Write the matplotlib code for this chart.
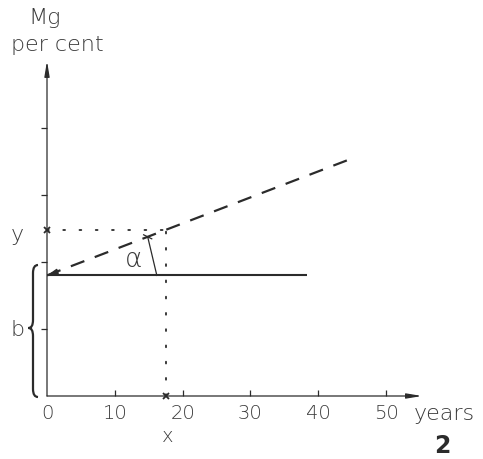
import matplotlib
matplotlib.use("Agg")
import matplotlib.pyplot as plt
from matplotlib.path import Path
from matplotlib.patches import PathPatch

# ---- data ----
x_ticks = [0, 10, 20, 30, 40, 50]
x_tick_labels = ["0", "10", "20", "30", "40", "50"]
y_ticks = [1, 2, 3, 4]
b_value = 1.8            # intercept b
slope = 0.0388           # tan(alpha), per year
x_value = 17.5           # years (x)
solid_end = 38.3         # end of solid horizontal line (years)
dashed_end = 44.3        # end of dashed line (years)
alpha_x = 14.85          # where the alpha marker meets the dashed line
xmax, ymax = 55.3, 5.0

y_value = b_value + slope * x_value

INK = "#2b2b2b"
TXT = "#3a3a3a"
FONT = "DejaVu Sans"

W, H = 483, 459
fig = plt.figure(figsize=(W / 100, H / 100), dpi=100)
x0_px, y0_px = 47, 396
sx, sy = 6.78, 67.0
ax = fig.add_axes([x0_px / W, (H - y0_px) / H, xmax * sx / W, ymax * sy / H])
ax.set_xlim(0, xmax)
ax.set_ylim(0, ymax)
for s in ["top", "right", "bottom", "left"]:
    ax.spines[s].set_visible(False)

# axes lines with arrows
ax.annotate("", xy=(xmax, 0), xytext=(0, 0),
            arrowprops=dict(arrowstyle="-|>,head_length=0.9,head_width=0.15",
                            color=INK, lw=0.9, shrinkA=0, shrinkB=0),
            annotation_clip=False)
ax.annotate("", xy=(0, ymax), xytext=(0, 0),
            arrowprops=dict(arrowstyle="-|>,head_length=0.9,head_width=0.15",
                            color=INK, lw=0.9, shrinkA=0, shrinkB=0),
            annotation_clip=False)

# ticks
ax.set_xticks(x_ticks[1:])
ax.set_xticklabels([])
ax.tick_params(axis="x", direction="in", length=4, width=0.9, color=INK)
ax.set_yticks(y_ticks)
ax.set_yticklabels([])
ax.tick_params(axis="y", direction="out", length=4, width=0.9, color=INK)

for xv, lab in zip(x_ticks, x_tick_labels):
    ax.text(xv, -0.26, lab, ha="center", va="center", fontsize=14,
            color=TXT, family=FONT, fontweight="light")
ax.text(58.6, -0.27, "years", ha="center", va="center", fontsize=16,
        color=TXT, family=FONT, fontweight="light", clip_on=False)
ax.text(x_value + 0.3, -0.6, "x", ha="center", va="center", fontsize=14,
        color=TXT, family=FONT, fontweight="light")
ax.text(58.3, -0.74, "2", ha="center", va="center", fontsize=17,
        color=INK, family=FONT, fontweight="bold")

# y-axis label
ax.text(-0.4, 5.64, "Mg", ha="center", va="center", fontsize=16,
        color=TXT, family=FONT, fontweight="light")
ax.text(1.5, 5.24, "per cent", ha="center", va="center", fontsize=16,
        color=TXT, family=FONT, fontweight="light")

# solid horizontal line
ax.plot([0, solid_end], [b_value, b_value], color=INK, lw=1.5,
        solid_capstyle="butt")

# dashed line with arrow at the start
xs = [0, dashed_end]
ys = [b_value + slope * v for v in xs]
ax.plot(xs, ys, color=INK, lw=1.6, dashes=(6.5, 5))
ax.annotate("", xy=(0, b_value), xytext=(1.4, b_value + slope * 1.4),
            arrowprops=dict(arrowstyle="-|>,head_length=0.6,head_width=0.15",
                            color=INK, lw=1.0, shrinkA=0, shrinkB=0))

# dotted guide lines
ax.plot([0, x_value], [y_value, y_value], color=INK, lw=1.3,
        dashes=(1, 8), dash_capstyle="round")
ax.plot([x_value, x_value], [0, y_value], color=INK, lw=1.3,
        dashes=(1, 8), dash_capstyle="round")
ax.plot([0, x_value], [y_value, 0], linestyle="none", marker="x",
        markersize=5, mew=1.3, color=INK, clip_on=False)

# alpha marker
ay = b_value + slope * alpha_x
ax.plot([16.2, alpha_x], [b_value, ay], color=INK, lw=0.9)
ax.plot([alpha_x - 0.6, alpha_x + 0.6], [ay + 0.03, ay - 0.03], color=INK, lw=0.9)
ax.text(12.8, 2.03, "α", ha="center", va="center", fontsize=19,
        color=TXT, family=FONT, fontweight="light")

# labels y and b
ax.text(-4.3, y_value - 0.08, "y", ha="center", va="center", fontsize=16,
        color=TXT, family=FONT, fontweight="light", clip_on=False)
ax.text(-4.3, 0.98, "b", ha="center", va="center", fontsize=16,
        color=TXT, family=FONT, fontweight="light", clip_on=False)

# curly brace for b (pixels converted to data units)
def px(xp):
    return (xp - x0_px) / sx

def py(yp):
    return (y0_px - yp) / sy

xv, xe, xt = px(33), px(38), px(28.5)
top, bot, mid = py(265), py(397), py(328)
r = 0.12
verts = [
    (xe, top), (xv, top), (xv, top - r), (xv, top - r),
    (xv, mid + r), (xv, mid + r),
    (xv, mid), (xt, mid),
    (xv, mid), (xv, mid - r),
    (xv, mid - r), (xv, bot + r), (xv, bot + r),
    (xv, bot), (xe, bot),
]
codes = [Path.MOVETO, Path.CURVE3, Path.CURVE3, Path.LINETO,
         Path.LINETO, Path.LINETO,
         Path.CURVE3, Path.CURVE3,
         Path.CURVE3, Path.CURVE3,
         Path.LINETO, Path.LINETO, Path.LINETO,
         Path.CURVE3, Path.CURVE3]
brace = PathPatch(Path(verts, codes), facecolor="none", edgecolor=INK,
                  lw=1.6, clip_on=False)
ax.add_patch(brace)

fig.savefig("out.png", dpi=100, facecolor="white")
